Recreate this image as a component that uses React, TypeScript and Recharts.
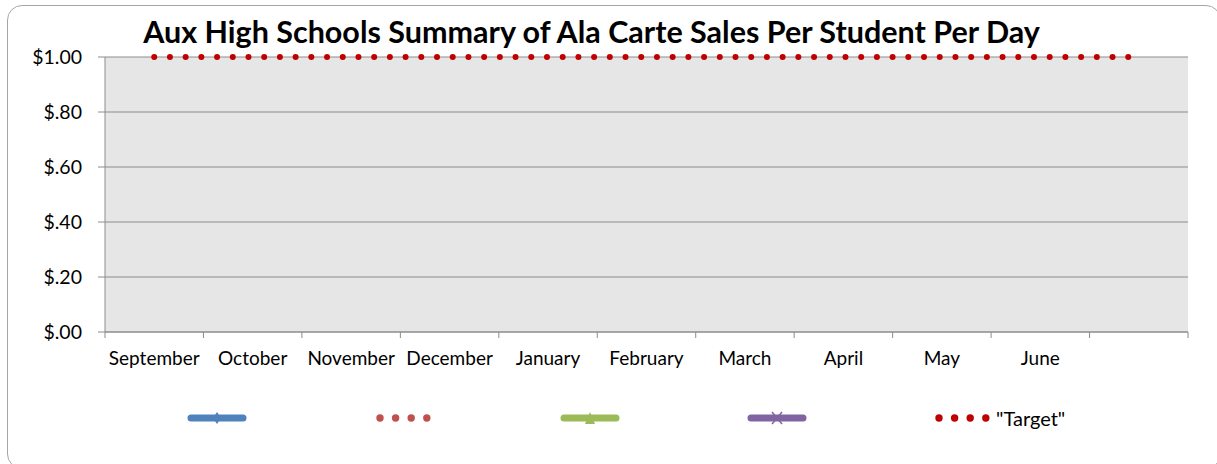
import { LineChart, Line, XAxis, YAxis, CartesianGrid } from 'recharts'

const months = [
  'September',
  'October',
  'November',
  'December',
  'January',
  'February',
  'March',
  'April',
  'May',
  'June',
  '',
]
// series with no values entered yet in the sheet
const schoolA = [null, null, null, null, null, null, null, null, null, null, null]
const schoolB = [null, null, null, null, null, null, null, null, null, null, null]
const schoolC = [null, null, null, null, null, null, null, null, null, null, null]
const schoolD = [null, null, null, null, null, null, null, null, null, null, null]
const target = [1, 1, 1, 1, 1, 1, 1, 1, 1, 1, 1]

const yTicks = [0, 0.2, 0.4, 0.6, 0.8, 1]
const yTickLabels = ['$.00', '$.20', '$.40', '$.60', '$.80', '$1.00']

const legendItems = [
  { name: '', color: '#4F81BD', kind: 'diamond' },
  { name: '', color: '#C0504D', kind: 'dots' },
  { name: '', color: '#9BBB59', kind: 'triangle' },
  { name: '', color: '#8064A2', kind: 'cross' },
  { name: '"Target"', color: '#C00000', kind: 'dots' },
]

const data = months.map((month, i) => ({
  month,
  a: schoolA[i],
  b: schoolB[i],
  c: schoolC[i],
  d: schoolD[i],
  target: target[i],
}))

const FONT = 'Lato, "Open Sans", sans-serif'
const GRID = '#8c8c8c'
const BAND = (1188 - 105) / months.length

const MonthTick = (props: any) => {
  const { x, y, payload, index, visibleTicksCount } = props
  const axisY = y - 6
  return (
    <g>
      <line x1={x - BAND / 2} x2={x - BAND / 2} y1={axisY} y2={axisY + 6} stroke={GRID} />
      {index === visibleTicksCount - 1 && (
        <line x1={x + BAND / 2} x2={x + BAND / 2} y1={axisY} y2={axisY + 6} stroke={GRID} />
      )}
      <text x={x} y={axisY + 33} textAnchor="middle" fill="#000" fontSize={19} fontFamily={FONT}>
        {payload.value}
      </text>
    </g>
  )
}

const LegendIcon = ({ item }: { item: (typeof legendItems)[number] }) => {
  if (item.kind === 'dots') {
    return (
      <svg width={60} height={14}>
        {[0, 1, 2, 3].map((k) => (
          <circle key={k} cx={6 + k * 15.6} cy={7} r={3.7} fill={item.color} />
        ))}
      </svg>
    )
  }
  return (
    <svg width={60} height={14}>
      <line x1={4} x2={56} y1={7} y2={7} stroke={item.color} strokeWidth={7} strokeLinecap="round" />
      {item.kind === 'diamond' && <polygon points="30,1 34,7 30,13 26,7" fill={item.color} />}
      {item.kind === 'triangle' && <polygon points="30,1 35,13 25,13" fill={item.color} />}
      {item.kind === 'cross' && (
        <g stroke={item.color} strokeWidth={1.5}>
          <line x1={25} y1={1} x2={35} y2={13} />
          <line x1={35} y1={1} x2={25} y2={13} />
        </g>
      )}
    </svg>
  )
}

export default function App() {
  return (
    <div style={{ position: 'absolute', left: 0, top: 0, width: 1217, height: 464, overflow: 'hidden', background: '#fff' }}>
      <div
        style={{
          position: 'absolute',
          left: 7,
          top: 5,
          width: 1214,
          height: 464,
          border: '1.5px solid #a6a6a6',
          borderRadius: 15,
          boxSizing: 'border-box',
        }}
      />
      <div
        style={{
          position: 'absolute',
          left: 0,
          top: 13,
          width: 1183,
          textAlign: 'center',
          fontFamily: FONT,
          fontWeight: 700,
          fontSize: 30.5,
          lineHeight: '36px',
          color: '#000',
          whiteSpace: 'nowrap',
        }}
      >
        Aux High Schools Summary of Ala Carte Sales Per Student Per Day
      </div>
      <div style={{ position: 'absolute', left: 0, top: 0 }}>
        <LineChart width={1217} height={464} data={data} margin={{ top: 57, right: 29, left: 0, bottom: 0 }}>
          <CartesianGrid vertical={false} stroke={GRID} fill="#e6e6e6" />
          <XAxis
            dataKey="month"
            scale="band"
            height={132}
            interval={0}
            axisLine={{ stroke: GRID }}
            tickLine={false}
            tickSize={6}
            tickMargin={0}
            tick={<MonthTick />}
          />
          <YAxis
            width={105}
            domain={[0, 1]}
            ticks={yTicks}
            tickFormatter={(v: number) => yTickLabels[yTicks.indexOf(v)]}
            axisLine={{ stroke: GRID }}
            tickLine={{ stroke: GRID }}
            tickSize={7}
            tickMargin={16}
            tick={{ fill: '#000', fontSize: 19.5, fontFamily: FONT }}
          />
          <YAxis yAxisId="edge" orientation="right" width={0} tick={false} tickLine={false} axisLine={{ stroke: GRID }} />
          <Line dataKey="a" stroke="#4F81BD" strokeWidth={4} dot={false} isAnimationActive={false} />
          <Line dataKey="b" stroke="#C0504D" strokeWidth={4} dot={false} isAnimationActive={false} />
          <Line dataKey="c" stroke="#9BBB59" strokeWidth={4} dot={false} isAnimationActive={false} />
          <Line dataKey="d" stroke="#8064A2" strokeWidth={4} dot={false} isAnimationActive={false} />
          <Line
            dataKey="target"
            stroke="#C00000"
            strokeWidth={6}
            strokeDasharray="0.01 15.7"
            strokeLinecap="round"
            dot={false}
            isAnimationActive={false}
          />
        </LineChart>
      </div>
      {legendItems.map((item, i) => (
        <div
          key={i}
          style={{
            position: 'absolute',
            left: 187 + i * 186.5,
            top: 404,
            height: 28,
            display: 'flex',
            alignItems: 'center',
            fontFamily: FONT,
            fontSize: 20,
            color: '#000',
          }}
        >
          <LegendIcon item={item} />
          {item.name && <span style={{ marginLeft: 3 }}>{item.name}</span>}
        </div>
      ))}
    </div>
  )
}
